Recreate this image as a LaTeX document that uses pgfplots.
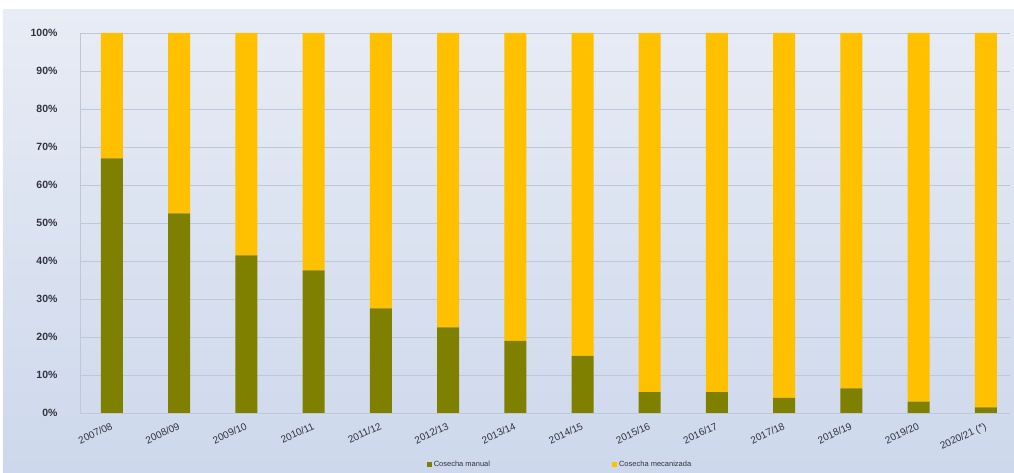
\documentclass[border=0pt]{standalone}
\usepackage{pgfplots}
\pgfplotsset{compat=1.18}
\usepackage{fontspec}
\setmainfont{Liberation Sans}
\definecolor{verde}{RGB}{128,128,0}
\definecolor{amarillo}{RGB}{255,192,0}
\definecolor{fondoA}{RGB}{232,236,245}
\definecolor{fondoB}{RGB}{205,216,236}
\definecolor{rejilla}{RGB}{192,199,215}
\definecolor{texto}{RGB}{50,50,60}
\begin{document}
\begin{tikzpicture}
% fondo (1px = 1pt; origen = esquina inferior izquierda del área de trazado)
\fill[white] (-80pt,-60pt) rectangle (934pt,413pt);
\shade[top color=fondoA, bottom color=fondoB] (-77pt,-60pt) rectangle (934pt,403pt);
\begin{axis}[
    scale only axis,
    width=930pt, height=380pt,
    ybar stacked,
    bar width=22pt,
    xmin=-0.476, xmax=13.36,
    ymin=0, ymax=100,
    xtick={0,...,13},
    xticklabels={2007/08,2008/09,2009/10,2010/11,2011/12,2012/13,2013/14,2014/15,2015/16,2016/17,2017/18,2018/19,2019/20,2020/21 (*)},
    ytick={0,10,...,100},
    yticklabels={0\%,10\%,20\%,30\%,40\%,50\%,60\%,70\%,80\%,90\%,100\%},
    ymajorgrids,
    grid style={rejilla, line width=0.6pt},
    axis x line*=bottom,
    axis y line*=left,
    axis line style={rejilla, line width=0.8pt},
    major tick length=0pt,
    tick style={draw=none},
    yticklabel style={font=\fontsize{10.5}{12}\selectfont\bfseries, text=texto},
    yticklabel shift={19pt},
    xticklabel style={font=\fontsize{10}{11}\selectfont, text=texto, rotate=25, anchor=north east, xshift=-2pt, yshift=-4pt},
    legend style={at={(480pt,-52pt)}, anchor=center, draw=none, fill=none,
        font=\fontsize{7.5}{9}\selectfont, text=texto, legend columns=2,
        /tikz/every even column/.append style={column sep=120pt}},
    legend image code/.code={\fill[#1] (0pt,-2.5pt) rectangle (5pt,2.5pt);},
]
\addplot[fill=verde, draw=none] coordinates {
    (0,67) (1,52.5) (2,41.5) (3,37.5) (4,27.5) (5,22.5) (6,19)
    (7,15) (8,5.5) (9,5.5) (10,4) (11,6.5) (12,3) (13,1.5)};
\addplot[fill=amarillo, draw=none] coordinates {
    (0,33) (1,47.5) (2,58.5) (3,62.5) (4,72.5) (5,77.5) (6,81)
    (7,85) (8,94.5) (9,94.5) (10,96) (11,93.5) (12,97) (13,98.5)};
\legend{Cosecha manual, Cosecha mecanizada}
\end{axis}
\end{tikzpicture}
\end{document}
